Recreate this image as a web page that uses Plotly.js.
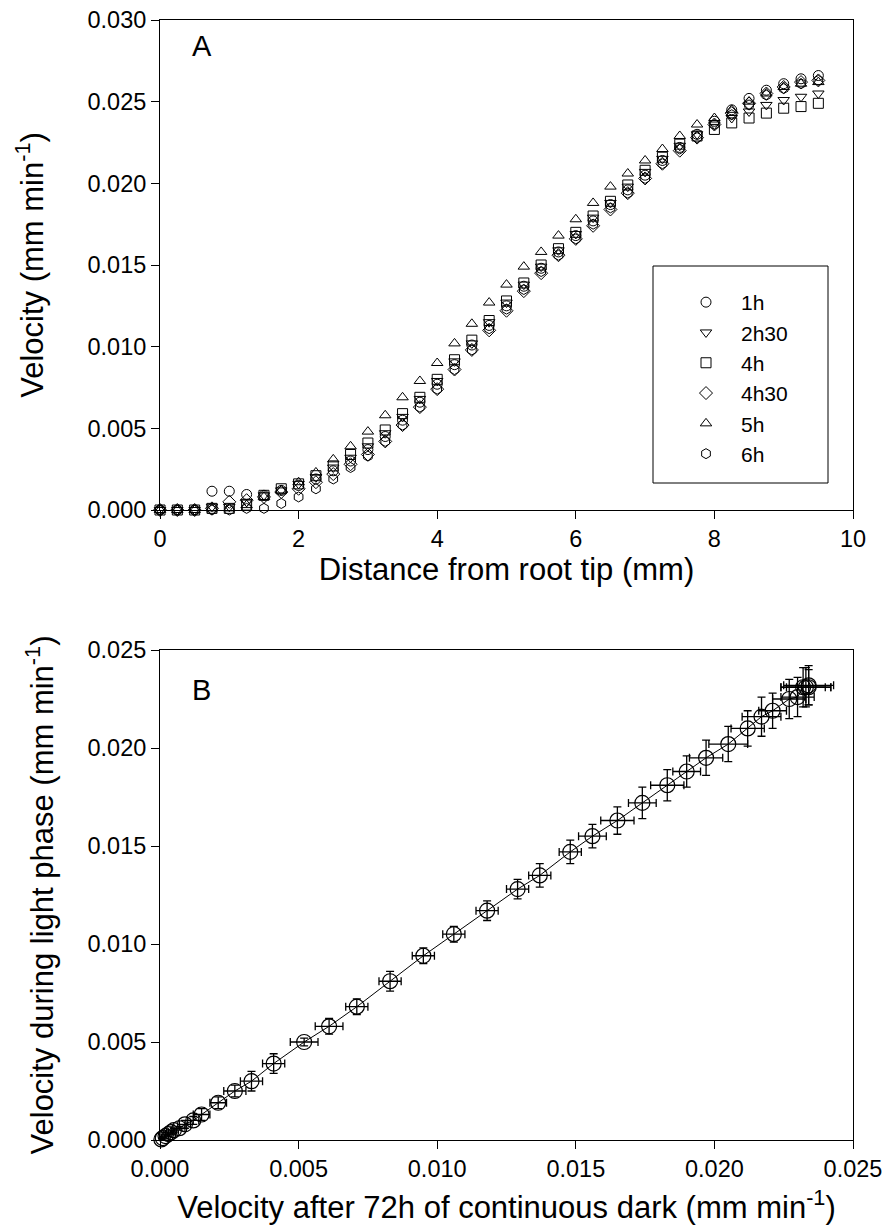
<!DOCTYPE html>
<html>
<head>
<meta charset="utf-8">
<script src="https://cdn.plot.ly/plotly-3.0.1.min.js"></script>
<style>
  html, body { margin: 0; padding: 0; background: #fff; }
  #chart { width: 883px; height: 1232px; }
</style>
</head>
<body>
<div id="chart"></div>
<script>
// ---------- Panel A data ----------
const distance = [0,0.25,0.5,0.75,1,1.25,1.5,1.75,2,2.25,2.5,2.75,3,3.25,3.5,3.75,4,4.25,4.5,4.75,5,5.25,5.5,5.75,6,6.25,6.5,6.75,7,7.25,7.5,7.75,8,8.25,8.5,8.75,9,9.25,9.5];
const seriesNames = ["1h", "2h30", "4h", "4h30", "5h", "6h"];
const v1h   = [0,0,0,0.00115,0.00115,0.00095,0.0009,0.0012,0.0015,0.0019,0.0024,0.0030,0.0037,0.0045,0.0055,0.0066,0.0077,0.0089,0.0101,0.0113,0.0125,0.0137,0.0148,0.0158,0.0168,0.0177,0.0187,0.0196,0.0205,0.0214,0.0222,0.0230,0.0238,0.0245,0.0252,0.0257,0.0261,0.0264,0.0266];
const v2h30 = [0,0,0,0.0002,0.0002,0.0005,0.0009,0.0012,0.0016,0.0020,0.0026,0.0032,0.0039,0.0047,0.0057,0.0068,0.0079,0.0091,0.0102,0.0115,0.0127,0.0138,0.0149,0.0159,0.0169,0.0179,0.0188,0.0198,0.0207,0.0215,0.0223,0.0230,0.0236,0.0240,0.0244,0.0248,0.0251,0.0253,0.0255];
const v4h   = [0,0,0,0.0001,0.0001,0.0003,0.0009,0.0013,0.0016,0.0021,0.0027,0.0034,0.0041,0.0049,0.0059,0.0069,0.0080,0.0092,0.0104,0.0116,0.0128,0.0139,0.0150,0.0160,0.0170,0.0180,0.0189,0.0199,0.0208,0.0216,0.0224,0.0229,0.0233,0.0237,0.0240,0.0243,0.0246,0.0247,0.0249];
const v4h30 = [0,0,0,0.0001,0.0005,0.0006,0.0008,0.0011,0.0013,0.0017,0.0022,0.0028,0.0034,0.0042,0.0052,0.0063,0.0074,0.0086,0.0098,0.0110,0.0122,0.0134,0.0145,0.0156,0.0166,0.0174,0.0184,0.0194,0.0203,0.0212,0.0220,0.0228,0.0236,0.0243,0.0249,0.0255,0.0259,0.0262,0.0263];
const v5h   = [0,0,0,0.0001,0.0001,0.0003,0.0008,0.0012,0.0017,0.0023,0.0031,0.0039,0.0048,0.0058,0.0069,0.0079,0.0090,0.0102,0.0114,0.0127,0.0138,0.0149,0.0158,0.0168,0.0178,0.0188,0.0198,0.0206,0.0214,0.0221,0.0229,0.0236,0.0240,0.0245,0.0250,0.0255,0.0259,0.0261,0.0262];
const v6h   = [0,0,0,0,0,0.0001,0.0001,0.0004,0.0008,0.0013,0.0019,0.0026,0.0033,0.0042,0.0052,0.0063,0.0074,0.0086,0.0098,0.0111,0.0123,0.0135,0.0146,0.0156,0.0166,0.0175,0.0185,0.0194,0.0203,0.0212,0.0221,0.0228,0.0236,0.0242,0.0248,0.0254,0.0258,0.0261,0.0263];

// ---------- Panel B data ----------
const darkVel  = [0.00005,0.0001,0.0002,0.0003,0.0004,0.0005,0.0007,0.0009,0.0012,0.0015,0.0021,0.0027,0.0033,0.0041,0.0052,0.0061,0.0071,0.0083,0.0095,0.0106,0.0118,0.0129,0.0137,0.0148,0.0156,0.0165,0.0174,0.0183,0.0190,0.0197,0.0205,0.0212,0.0217,0.0221,0.0227,0.0230,0.0232,0.0233,0.0234,0.0234];
const lightVel = [0.00003,0.0001,0.0002,0.0003,0.0004,0.0005,0.0006,0.0008,0.0010,0.0013,0.0019,0.0025,0.0030,0.0039,0.0050,0.0058,0.0068,0.0081,0.0094,0.0105,0.0117,0.0128,0.0135,0.0147,0.0155,0.0163,0.0172,0.0181,0.0188,0.0195,0.0202,0.0210,0.0216,0.0219,0.0225,0.0226,0.0231,0.0231,0.0232,0.0231];
const darkErr  = [0.00003,0.00005,0.0001,0.0001,0.0001,0.0001,0.0002,0.0002,0.0002,0.0003,0.0003,0.0004,0.0004,0.0004,0.0005,0.0005,0.0004,0.0004,0.0004,0.0004,0.0004,0.0004,0.0004,0.0004,0.0005,0.0006,0.0005,0.0006,0.0005,0.0006,0.0007,0.0006,0.0007,0.0005,0.0006,0.0006,0.0008,0.0009,0.0009,0.0008];
const lightErr = [0.00002,0.00005,0.0001,0.0001,0.0001,0.0001,0.0001,0.0002,0.0002,0.0003,0.0003,0.0003,0.0005,0.0005,0.0002,0.0004,0.0004,0.0005,0.0004,0.0004,0.0005,0.0005,0.0006,0.0006,0.0006,0.0007,0.0008,0.0008,0.0008,0.0009,0.0009,0.0009,0.0010,0.0009,0.0010,0.0010,0.0010,0.0010,0.0010,0.0009];

// ---------- styling ----------
const FONT = "Liberation Sans, Arial, Helvetica, sans-serif";
const W = 883, H = 1232;
const px = v => v / W;
const py = v => 1 - v / H;

const symbols = ["circle-open", "triangle-down-open", "square-open", "diamond-open", "triangle-up-open", "hexagon-open"];
const seriesValues = [v1h, v2h30, v4h, v4h30, v5h, v6h];

const traces = seriesNames.map((name, i) => ({
  type: "scatter", mode: "markers", name: name,
  x: distance, y: seriesValues[i],
  xaxis: "x", yaxis: "y", cliponaxis: false,
  marker: { symbol: symbols[i], size: 10, color: "#000", line: { color: "#000", width: 1 } }
}));

traces.push({
  type: "scatter", mode: "lines+markers", showlegend: false,
  x: darkVel, y: lightVel, xaxis: "x2", yaxis: "y2", cliponaxis: false,
  line: { color: "#000", width: 1 },
  marker: { symbol: "circle-open", size: 15, color: "#000", line: { color: "#000", width: 1.2 } },
  error_x: { type: "data", array: darkErr, visible: true, color: "#000", thickness: 1.3, width: 4 },
  error_y: { type: "data", array: lightErr, visible: true, color: "#000", thickness: 1.3, width: 4 }
});

const TICKSZ = 23.5, TITLESZ = 31;
const axisCommon = {
  showline: true, linecolor: "#000", linewidth: 1, mirror: true,
  ticks: "outside", ticklen: 8, tickwidth: 1, tickcolor: "#000",
  showgrid: false, zeroline: false,
  tickfont: { family: FONT, size: TICKSZ, color: "#000" }
};

const layout = {
  width: W, height: H,
  margin: { l: 0, r: 0, t: 0, b: 0 },
  paper_bgcolor: "#fff", plot_bgcolor: "#fff",
  font: { family: FONT, color: "#000" },
  showlegend: true,
  legend: {
    x: px(671), y: py(282), xanchor: "left", yanchor: "top",
    bgcolor: "rgba(0,0,0,0)", borderwidth: 0,
    font: { family: FONT, size: 21, color: "#000" },
    itemwidth: 60, tracegroupgap: 0
  },
  xaxis: Object.assign({}, axisCommon, {
    domain: [px(160), px(853)], anchor: "y",
    range: [0, 10], tickmode: "linear", tick0: 0, dtick: 2,
    title: { text: "Distance from root tip (mm)", font: { family: FONT, size: TITLESZ, color: "#000" }, standoff: 0 }
  }),
  yaxis: Object.assign({}, axisCommon, {
    domain: [py(510), py(20)], anchor: "x",
    range: [0, 0.030], tickmode: "linear", tick0: 0, dtick: 0.005, tickformat: ".3f",
    title: { text: "Velocity (mm min<sup>-1</sup>)", font: { family: FONT, size: TITLESZ, color: "#000" }, standoff: 34 }
  }),
  xaxis2: Object.assign({}, axisCommon, {
    domain: [px(160), px(853)], anchor: "y2",
    range: [0, 0.025], tickmode: "linear", tick0: 0, dtick: 0.005, tickformat: ".3f",
    title: { text: "Velocity after 72h of continuous dark (mm min<sup>-1</sup>)", font: { family: FONT, size: TITLESZ, color: "#000" }, standoff: 15 }
  }),
  yaxis2: Object.assign({}, axisCommon, {
    domain: [py(1140), py(650)], anchor: "x2",
    range: [0, 0.025], tickmode: "linear", tick0: 0, dtick: 0.005, tickformat: ".3f",
    title: { text: "Velocity during light phase (mm min<sup>-1</sup>)", font: { family: FONT, size: TITLESZ, color: "#000" }, standoff: 24 }
  }),
  shapes: [
    { type: "rect", xref: "paper", yref: "paper",
      x0: px(653), x1: px(828), y0: py(483), y1: py(266),
      line: { color: "#000", width: 1 }, fillcolor: "rgba(0,0,0,0)" }
  ],
  annotations: [
    { xref: "paper", yref: "paper", x: px(190), y: py(46), xanchor: "left", yanchor: "middle",
      text: "A", showarrow: false, font: { family: FONT, size: 29, color: "#000" } },
    { xref: "paper", yref: "paper", x: px(190), y: py(690), xanchor: "left", yanchor: "middle",
      text: "B", showarrow: false, font: { family: FONT, size: 29, color: "#000" } }
  ]
};

Plotly.newPlot("chart", traces, layout, { staticPlot: true, displayModeBar: false });
</script>
</body>
</html>
